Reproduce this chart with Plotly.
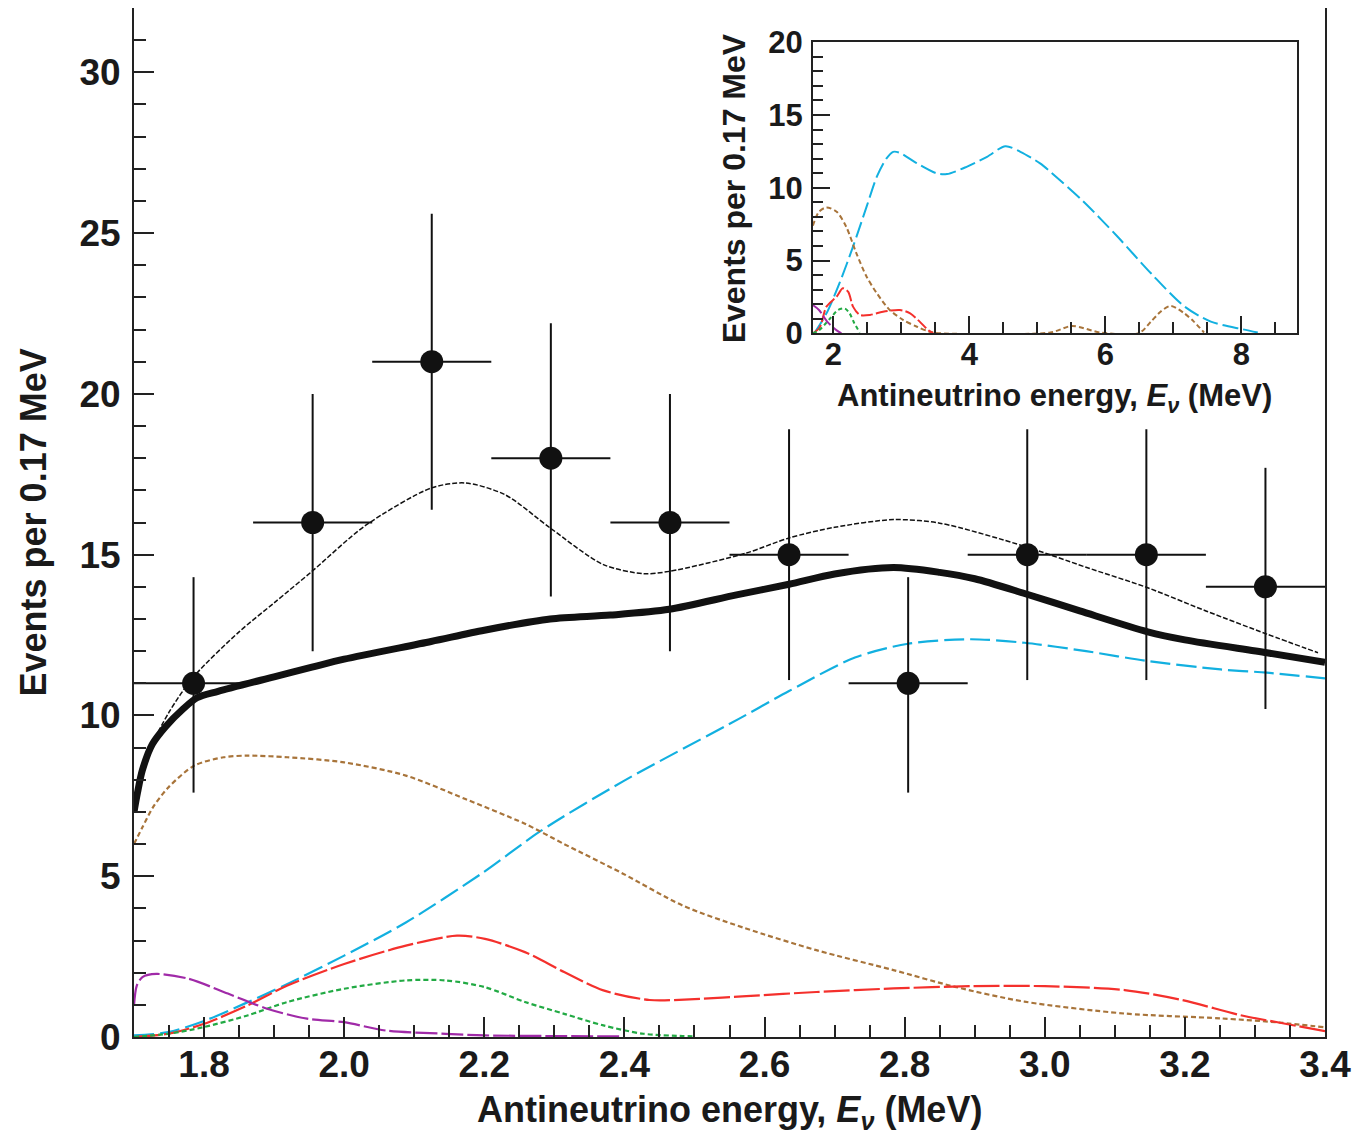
import plotly.graph_objects as go

# ---------------- data: main panel ----------------
bin_centers = [1.785, 1.955, 2.125, 2.295, 2.465, 2.635, 2.805, 2.975, 3.145, 3.315]
bin_halfwidth = [0.085] * 10
events = [11, 16, 21, 18, 16, 15, 11, 15, 15, 14]
err_up = [3.3, 4.0, 4.6, 4.2, 4.0, 3.9, 3.3, 3.9, 3.9, 3.7]
err_down = [3.4, 4.0, 4.6, 4.3, 4.0, 3.9, 3.4, 3.9, 3.9, 3.8]

total_x = [1.700, 1.705, 1.712, 1.726, 1.745, 1.770, 1.790, 1.820, 1.900, 1.954, 2.000, 2.124,
           2.200, 2.294, 2.380, 2.464, 2.560, 2.635, 2.700, 2.784, 2.850, 2.900, 2.970, 3.050,
           3.147, 3.200, 3.317, 3.400]
total_y = [7.0, 7.6, 8.3, 9.1, 9.65, 10.2, 10.55, 10.75, 11.2, 11.5, 11.75, 12.3,
           12.65, 13.0, 13.12, 13.3, 13.75, 14.08, 14.4, 14.6, 14.45, 14.25, 13.8, 13.25,
           12.6, 12.35, 11.95, 11.65]

thin_x = [1.700, 1.720, 1.750, 1.785, 1.850, 1.900, 1.954, 2.030, 2.124, 2.173, 2.230, 2.294,
          2.370, 2.427, 2.464, 2.574, 2.635, 2.700, 2.784, 2.850, 2.971, 3.060, 3.147, 3.230,
          3.317, 3.390]
thin_y = [7.0, 8.8, 10.1, 11.2, 12.6, 13.5, 14.48, 15.9, 17.07, 17.23, 16.86, 15.83,
          14.69, 14.41, 14.48, 15.05, 15.52, 15.85, 16.09, 15.98, 15.26, 14.6, 13.97, 13.25,
          12.53, 11.95]

reactor_x = [1.700, 1.749, 1.800, 1.857, 1.919, 2.000, 2.088, 2.198, 2.280, 2.398, 2.564, 2.635,
             2.729, 2.805, 2.894, 2.971, 3.059, 3.147, 3.251, 3.317, 3.400]
reactor_y = [0.05, 0.15, 0.5, 1.03, 1.65, 2.53, 3.56, 5.11, 6.4, 7.95, 9.9, 10.76,
             11.8, 12.23, 12.37, 12.26, 12.0, 11.69, 11.43, 11.33, 11.15]

brown_x = [1.700, 1.712, 1.727, 1.749, 1.786, 1.828, 1.862, 1.919, 2.000, 2.088, 2.173, 2.258,
           2.314, 2.398, 2.483, 2.570, 2.674, 2.784, 2.872, 2.971, 3.114, 3.251, 3.334, 3.400]
brown_y = [6.0, 6.52, 7.14, 7.76, 8.44, 8.7, 8.75, 8.7, 8.54, 8.13, 7.4, 6.63,
           6.0, 5.08, 4.09, 3.4, 2.7, 2.08, 1.56, 1.1, 0.73, 0.58, 0.45, 0.3]

red_x = [1.700, 1.749, 1.800, 1.862, 1.919, 2.000, 2.088, 2.161, 2.201, 2.258, 2.314, 2.370,
         2.436, 2.500, 2.574, 2.674, 2.784, 2.894, 3.000, 3.114, 3.196, 3.279, 3.334, 3.400]
red_y = [0.0, 0.1, 0.41, 0.98, 1.6, 2.27, 2.84, 3.15, 3.05, 2.64, 2.02, 1.45,
         1.15, 1.18, 1.27, 1.4, 1.51, 1.58, 1.58, 1.46, 1.15, 0.68, 0.45, 0.18]

green_x = [1.700, 1.749, 1.800, 1.862, 1.919, 2.000, 2.088, 2.145, 2.201, 2.258, 2.314, 2.370,
           2.427, 2.483, 2.500]
green_y = [0.0, 0.1, 0.31, 0.67, 1.09, 1.5, 1.76, 1.76, 1.55, 1.09, 0.72, 0.36,
           0.1, 0.03, 0.02]

purple_x = [1.700, 1.704, 1.712, 1.732, 1.778, 1.834, 1.890, 1.947, 2.000, 2.060, 2.145, 2.200,
            2.300, 2.400]
purple_y = [0.98, 1.6, 1.86, 1.96, 1.81, 1.35, 0.88, 0.57, 0.46, 0.2, 0.1, 0.05,
            0.03, 0.02]

# ---------------- data: inset ----------------
in_reactor_x = [1.72, 1.90, 2.09, 2.29, 2.49, 2.64, 2.78, 2.88, 2.98, 3.23, 3.52, 3.67, 3.96,
                4.26, 4.53, 4.75, 5.04, 5.19, 5.68, 6.18, 6.67, 7.16, 7.55, 8.02, 8.24]
in_reactor_y = [0.0, 1.37, 3.43, 5.95, 8.7, 10.76, 12.0, 12.47, 12.4, 11.68, 10.99, 10.94, 11.44,
                12.13, 12.86, 12.47, 11.68, 11.1, 9.04, 6.63, 4.12, 1.85, 0.8, 0.27, 0.05]

in_brown_x = [1.70, 1.79, 1.90, 2.05, 2.19, 2.34, 2.49, 2.64, 2.83, 3.03, 3.23, 3.42, 3.57,
              5.19, 5.51, 5.93, 6.49, 6.67, 6.81, 6.96, 7.16, 7.30, 7.45]
in_brown_y = [7.4, 8.35, 8.65, 8.35, 7.32, 5.49, 3.89, 2.75, 1.6, 0.91, 0.45, 0.1, 0.0,
              0.05, 0.5, 0.05, 0.0, 0.8, 1.48, 1.88, 1.37, 0.8, 0.05]

in_red_x = [1.70, 1.80, 1.90, 2.05, 2.14, 2.22, 2.29, 2.39, 2.54, 2.73, 2.98, 3.13, 3.27, 3.40, 3.47]
in_red_y = [0.0, 0.4, 1.83, 2.52, 3.09, 2.84, 1.83, 1.26, 1.26, 1.48, 1.6, 1.37, 0.8, 0.2, 0.0]

in_green_x = [1.70, 1.79, 1.95, 2.07, 2.17, 2.24, 2.31, 2.39]
in_green_y = [0.0, 0.2, 1.0, 1.6, 1.7, 1.37, 0.68, 0.05]

in_purple_x = [1.70, 1.79, 1.91, 2.05, 2.12]
in_purple_y = [1.94, 1.6, 0.8, 0.2, 0.0]

# ---------------- styles ----------------
CYAN = "#12b0e0"
BROWN = "#a8743a"
RED = "#f4302c"
GREEN = "#22aa44"
PURPLE = "#a02aa8"
FONT = "Liberation Sans, Arial, sans-serif"

fig = go.Figure()

def curve(x, y, color, width, dash, xa="x", ya="y"):
    fig.add_trace(go.Scatter(x=x, y=y, mode="lines", xaxis=xa, yaxis=ya,
                             line=dict(color=color, width=width, dash=dash, shape="spline", smoothing=0.8),
                             hoverinfo="skip", showlegend=False))

# main curves
curve(reactor_x, reactor_y, CYAN, 2.2, "20px,6px")
curve(brown_x, brown_y, BROWN, 2.2, "5px,3px")
curve(red_x, red_y, RED, 2.2, "26px,4px")
curve(green_x, green_y, GREEN, 2.2, "5px,3px")
curve(purple_x, purple_y, PURPLE, 2.2, "22px,4px")
curve(thin_x, thin_y, "#111111", 1.5, "5px,2px")
curve(total_x, total_y, "#111111", 7, "solid")

# data
fig.add_trace(go.Scatter(
    x=bin_centers, y=events, mode="markers",
    marker=dict(color="#111111", size=23, symbol="circle"),
    error_y=dict(type="data", symmetric=False, array=err_up, arrayminus=err_down,
                 color="#111111", thickness=2, width=0),
    error_x=dict(type="data", array=bin_halfwidth, color="#111111", thickness=2, width=0),
    hoverinfo="skip", showlegend=False))

# inset curves
curve(in_reactor_x, in_reactor_y, CYAN, 2, "16px,5px", "x2", "y2")
curve(in_brown_x, in_brown_y, BROWN, 2, "5px,3px", "x2", "y2")
curve(in_red_x, in_red_y, RED, 2, "12px,3px", "x2", "y2")
curve(in_green_x, in_green_y, GREEN, 2, "4px,3px", "x2", "y2")
curve(in_purple_x, in_purple_y, PURPLE, 2, "12px,3px", "x2", "y2")

axis_common = dict(showgrid=False, zeroline=False, showline=True, linecolor="#222222",
                   linewidth=2, mirror=True, ticks="inside", tickcolor="#222222",
                   tickwidth=2, automargin=False)

# the page body adds an 8px offset, so the figure is 8px smaller on each axis
fig.update_layout(
    width=1352, height=1132,
    margin=dict(l=126, r=35, t=0, b=103, autoexpand=False),
    paper_bgcolor="white", plot_bgcolor="white",
    showlegend=False,
    xaxis=dict(**axis_common, range=[1.7, 3.4], tick0=1.8, dtick=0.2, tickformat=".1f",
               ticklen=20,
               minor=dict(ticks="inside", dtick=0.05, ticklen=12, tickcolor="#222222", tickwidth=2),
               tickfont=dict(family=FONT, size=37, color="#1a1a1a", weight=700),
               ticklabelstandoff=-6),
    yaxis=dict(**axis_common, range=[0, 32], tick0=0, dtick=5, ticklen=20,
               minor=dict(ticks="inside", dtick=1, ticklen=12, tickcolor="#222222", tickwidth=2),
               tickfont=dict(family=FONT, size=37, color="#1a1a1a", weight=700),
               ticklabelstandoff=4),
    xaxis2=dict(**axis_common, domain=[0.570, 0.9767], anchor="y2", range=[1.7, 8.82],
                tick0=2, dtick=2, ticklen=17,
                minor=dict(ticks="inside", dtick=0.5, ticklen=11, tickcolor="#222222", tickwidth=2),
                tickfont=dict(family=FONT, size=31, color="#1a1a1a", weight=700),
                ticklabelstandoff=-7),
    yaxis2=dict(**axis_common, domain=[0.6839, 0.9667], anchor="x2", range=[0, 20],
                tick0=0, dtick=5, ticklen=17,
                minor=dict(ticks="inside", dtick=1, ticklen=10, tickcolor="#222222", tickwidth=2),
                tickfont=dict(family=FONT, size=31, color="#1a1a1a", weight=700),
                ticklabelstandoff=2),
)

title_x = "<b>Antineutrino energy, <i>E<sub>ν</sub></i> (MeV)</b>"
title_y = "<b>Events per 0.17 MeV</b>"

fig.add_annotation(text=title_x, xref="paper", yref="paper", x=0.5, y=-0.073,
                   xanchor="center", yanchor="middle", showarrow=False,
                   font=dict(family=FONT, size=36, color="#1a1a1a"))
fig.add_annotation(text=title_y, xref="paper", yref="paper", x=-0.084, y=0.5,
                   xanchor="center", yanchor="middle", textangle=-90, showarrow=False,
                   font=dict(family=FONT, size=36, color="#1a1a1a"))
fig.add_annotation(text=title_x, xref="paper", yref="paper", x=0.773, y=0.621,
                   xanchor="center", yanchor="middle", showarrow=False,
                   font=dict(family=FONT, size=31, color="#1a1a1a"))
fig.add_annotation(text=title_y, xref="paper", yref="paper", x=0.504, y=0.825,
                   xanchor="center", yanchor="middle", textangle=-90, showarrow=False,
                   font=dict(family=FONT, size=32, color="#1a1a1a"))

fig.write_html("out.html")
